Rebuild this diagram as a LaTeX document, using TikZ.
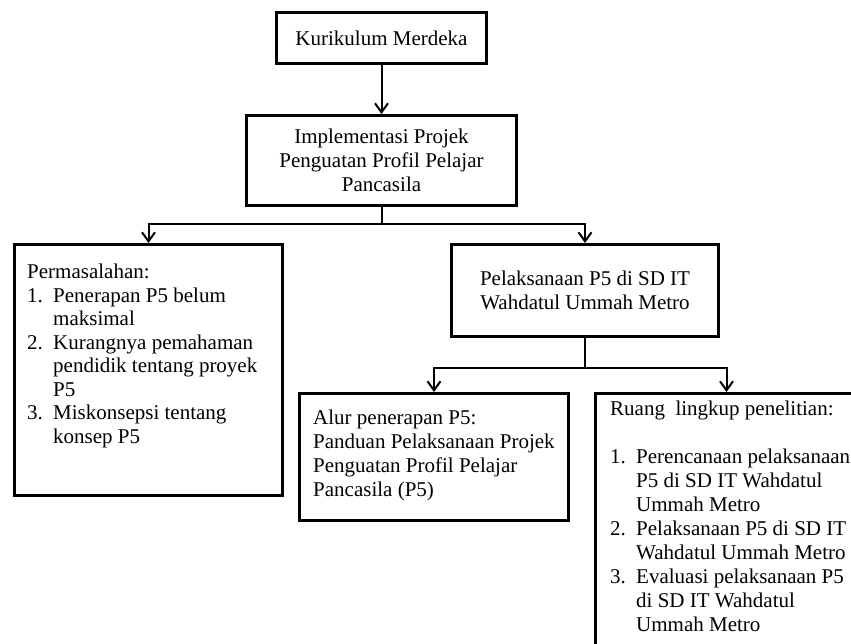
\documentclass[tikz,border=0pt]{standalone}
\usepackage{fontspec}
\setmainfont{Liberation Serif}
\usetikzlibrary{arrows.meta}
\begin{document}
\begin{tikzpicture}[x=1pt,y=-1pt,
				box/.style={draw,line width=3pt,inner sep=0pt,anchor=north west},
				txt/.style={inner sep=0pt,font=\fontsize{21}{24}\selectfont},
				conn/.style={line width=2pt},
				arr/.style={conn,-{Straight Barb[length=9pt,width=13pt]}}]
\useasboundingbox (0,0) rectangle (851,644);
\clip (0,0) rectangle (851,644);
\node[box,txt,minimum width=210pt,minimum height=51pt] (kurikulum) at (275,11) {Kurikulum Merdeka};
\node[box,txt,align=center,minimum width=270pt,minimum height=90pt] (impl) at (245,114)
	{Implementasi Projek\\Penguatan Profil Pelajar\\Pancasila};
\node[box,minimum width=268pt,minimum height=251pt] (masalah) at (13,243) {};
\node[box,txt,align=center,minimum width=267pt,minimum height=92pt] (pelaksanaan) at (450,243)
	{Pelaksanaan P5 di SD IT\\Wahdatul Ummah Metro};
\node[box,minimum width=269pt,minimum height=127pt] (alur) at (298,392) {};
\node[box,minimum width=262pt,minimum height=270pt] (ruang) at (594,392) {};
\node[txt,anchor=base west,font=\fontsize{21}{23.5}\selectfont] (masalahT) at (27,279) {\begin{tabular}[t]{@{}p{26pt}@{}l@{}}
	\multicolumn{2}{@{}l@{}}{Permasalahan:}\\
	1. & Penerapan P5 belum\\
	& maksimal\\
	2. & Kurangnya pemahaman\\
	& pendidik tentang proyek\\
	& P5\\
	3. & Miskonsepsi tentang\\
	& konsep P5
\end{tabular}};
\node[txt,anchor=base west] (alurT) at (313,424) {\begin{tabular}[t]{@{}l@{}}
	Alur penerapan P5:\\
	Panduan Pelaksanaan Projek\\
	Penguatan Profil Pelajar\\
	Pancasila (P5)
\end{tabular}};
\node[txt,anchor=base west] (ruangT) at (610,415) {\begin{tabular}[t]{@{}p{26pt}@{}l@{}}
	\multicolumn{2}{@{}l@{}}{Ruang\ \ lingkup penelitian:}\\
	\\
	1. & Perencanaan pelaksanaan\\
	& P5 di SD IT Wahdatul\\
	& Ummah Metro\\
	2. & Pelaksanaan P5 di SD IT\\
	& Wahdatul Ummah Metro\\
	3. & Evaluasi pelaksanaan P5\\
	& di SD IT Wahdatul\\
	& Ummah Metro
\end{tabular}};
\draw[arr] (kurikulum) -- (impl);
\draw[conn] (impl.south) -- ++(0,17) coordinate (cabang1);
\draw[arr] (cabang1) -| (masalah.north);
\draw[arr] (cabang1) -| (pelaksanaan.north);
\draw[conn] (pelaksanaan.south) -- ++(0,30) coordinate (cabang2);
\draw[arr] (cabang2) -| (alur.north);
\draw[arr] (cabang2) -| (ruang.north);
\end{tikzpicture}
\end{document}
